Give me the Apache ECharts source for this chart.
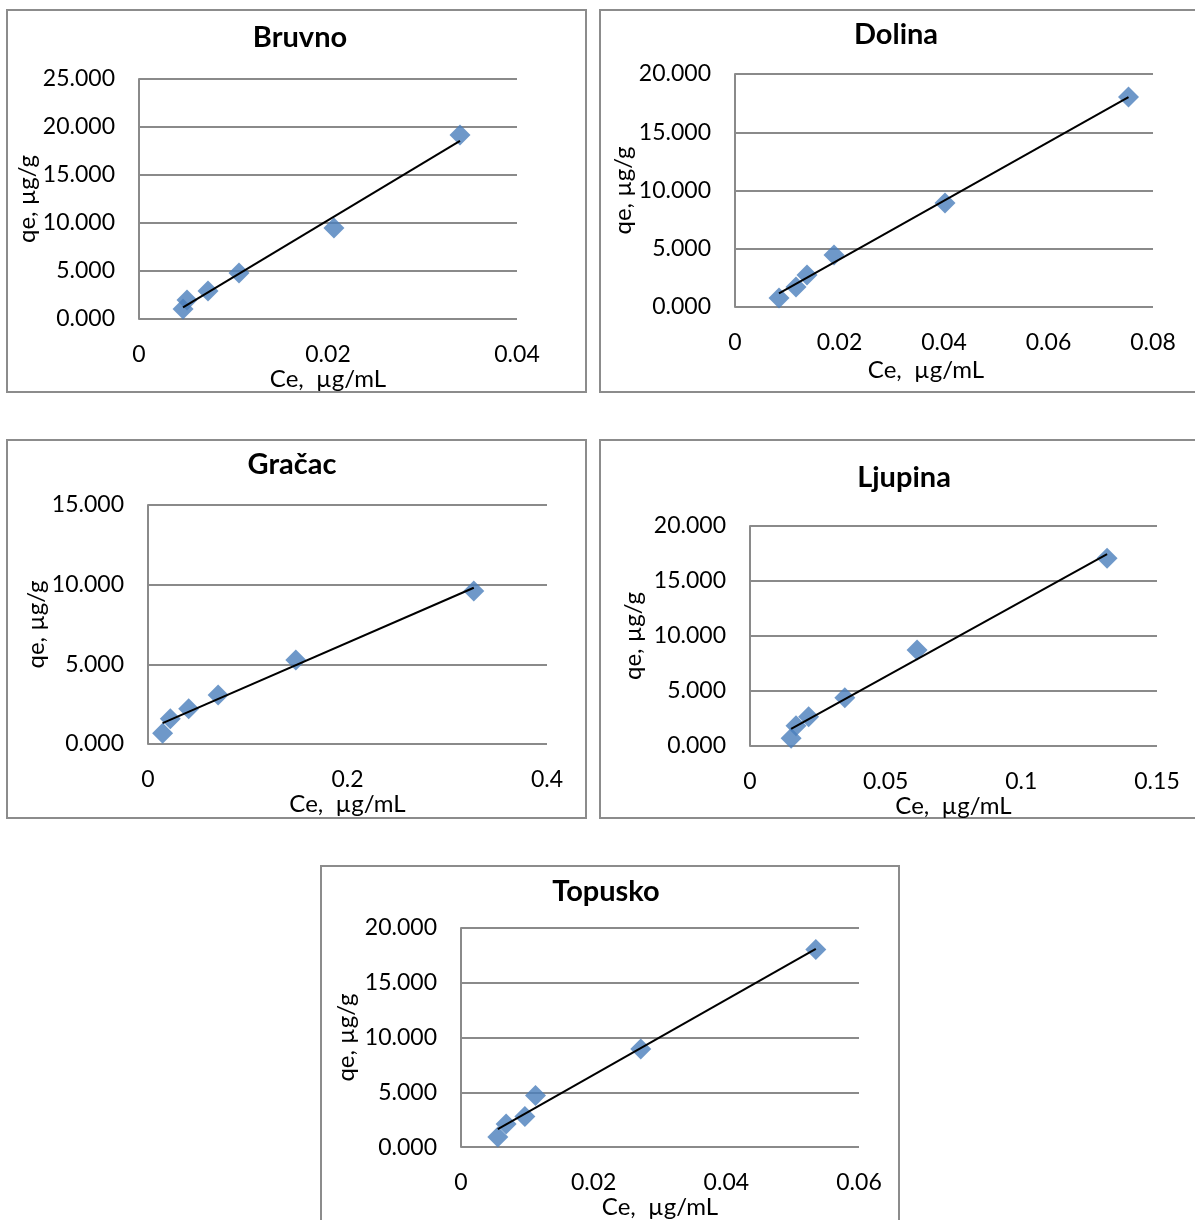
<!DOCTYPE html>
<html>
<head>
<meta charset="utf-8">
<script src="https://cdn.jsdelivr.net/npm/echarts@6/dist/echarts.min.js"></script>
<style>
html,body{margin:0;padding:0;background:#fff;}
#c{width:1195px;height:1220px;}
</style>
</head>
<body>
<div id="c"></div>
<script>
// ---- data ----
const titles = ['Bruvno', 'Dolina', 'Gra\u010dac', 'Ljupina', 'Topusko'];
const bruvnoCe = [0.00466, 0.00508, 0.0073, 0.01058, 0.02063, 0.03397];
const bruvnoQe = [1.042, 1.979, 2.917, 4.792, 9.479, 19.167];
const dolinaCe = [0.00842, 0.01167, 0.01378, 0.01895, 0.04019, 0.07531];
const dolinaQe = [0.773, 1.717, 2.747, 4.464, 8.927, 18.026];
const gracacCe = [0.01464, 0.02236, 0.0408, 0.0703, 0.1482, 0.3266];
const gracacQe = [0.672, 1.588, 2.215, 3.075, 5.272, 9.603];
const ljupinaCe = [0.01515, 0.01695, 0.0216, 0.03494, 0.06158, 0.1316];
const ljupinaQe = [0.700, 1.845, 2.664, 4.391, 8.727, 17.064];
const topuskoCe = [0.00555, 0.0068, 0.00963, 0.01123, 0.0271, 0.05349];
const topuskoQe = [0.920, 2.116, 2.795, 4.705, 8.955, 18.036];
const xMaxes = [0.04, 0.08, 0.4, 0.15, 0.06];
const xSteps = [0.02, 0.02, 0.2, 0.05, 0.02];
const yMaxes = [25, 20, 15, 20, 20];
const ySteps = [5, 5, 5, 5, 5];
const xAxisTitle = 'Ce,  \u00b5g/mL';
const yAxisTitle = 'qe, \u00b5g/g';

const ceSets = [bruvnoCe, dolinaCe, gracacCe, ljupinaCe, topuskoCe];
const qeSets = [bruvnoQe, dolinaQe, gracacQe, ljupinaQe, topuskoQe];

// ---- layout ----
const grids = [
  {left: 139, top: 79, width: 378, height: 240},
  {left: 735, top: 74, width: 418, height: 233},
  {left: 148, top: 505, width: 399, height: 239},
  {left: 750, top: 526, width: 407, height: 220},
  {left: 461, top: 928, width: 398, height: 224}
];
const boxes = [
  [7, 10, 579, 382], [600, 10, 620, 382], [7, 440, 579, 378], [600, 440, 620, 378], [321, 866, 578, 380]
];
const titlePos = [[300, 38], [896, 35], [292, 465], [904, 478], [606, 892]];
const yNameGap = [89, 97, 100, 105, 103];
const xNameGap = [43, 51, 44, 41, 42];
const xNamePad = [[0,0,0,0], [0,36,0,0], [0,0,0,0], [0,0,0,0], [0,0,0,0]];

const FONT = 'Lato, "Open Sans", sans-serif';
const GRIDC = '#8a8a8a';

function fit(xs, ys) {
  const n = xs.length;
  let mx = 0, my = 0;
  for (let i = 0; i < n; i++) { mx += xs[i]; my += ys[i]; }
  mx /= n; my /= n;
  let sxy = 0, sxx = 0;
  for (let i = 0; i < n; i++) { sxy += (xs[i]-mx)*(ys[i]-my); sxx += (xs[i]-mx)*(xs[i]-mx); }
  const b = sxy / sxx, a = my - b*mx;
  const x0 = Math.min.apply(null, xs), x1 = Math.max.apply(null, xs);
  return [[x0, a + b*x0], [x1, a + b*x1]];
}

const option = {
  animation: false,
  backgroundColor: '#fff',
  grid: [], xAxis: [], yAxis: [], series: [], graphic: []
};

for (let i = 0; i < 5; i++) {
  option.grid.push(Object.assign({containLabel: false}, grids[i]));
  option.xAxis.push({
    gridIndex: i, type: 'value', min: 0, max: xMaxes[i], interval: xSteps[i],
    axisLine: {show: false}, axisTick: {show: false}, splitLine: {show: false},
    axisLabel: {color: '#000', fontFamily: FONT, fontSize: 23, margin: 24},
    name: xAxisTitle, nameLocation: 'middle', nameGap: xNameGap[i],
    nameTextStyle: {color: '#000', fontFamily: FONT, fontSize: 24, padding: xNamePad[i]}
  });
  option.yAxis.push({
    gridIndex: i, type: 'value', min: 0, max: yMaxes[i], interval: ySteps[i],
    axisLine: {show: true, lineStyle: {color: GRIDC, width: 2}}, axisTick: {show: false},
    splitLine: {show: true, lineStyle: {color: GRIDC, width: 2}},
    axisLabel: {color: '#000', fontFamily: FONT, fontSize: 23, margin: 24,
      formatter: v => v.toFixed(3)},
    name: yAxisTitle, nameLocation: 'middle', nameGap: yNameGap[i], nameRotate: 90,
    nameTextStyle: {color: '#000', fontFamily: FONT, fontSize: 24}
  });
  const pts = ceSets[i].map((x, k) => [x, qeSets[i][k]]);
  option.series.push({
    type: 'scatter', xAxisIndex: i, yAxisIndex: i, data: pts,
    symbol: 'diamond', symbolSize: 21, itemStyle: {color: '#4A7EBB'}, z: 2
  });
  option.series.push({
    type: 'line', xAxisIndex: i, yAxisIndex: i, data: fit(ceSets[i], qeSets[i]),
    showSymbol: false, symbol: 'none', lineStyle: {color: '#000', width: 2}, z: 3, silent: true
  });
  const b = boxes[i];
  option.graphic.push({
    type: 'rect', shape: {x: b[0], y: b[1], width: b[2], height: b[3]},
    style: {fill: null, stroke: '#8c8c8c', lineWidth: 2}, z: 0, silent: true
  });
  option.graphic.push({
    type: 'text', x: titlePos[i][0], y: titlePos[i][1],
    style: {text: titles[i], fill: '#000', font: 'bold 29px ' + FONT,
      textAlign: 'center', textVerticalAlign: 'middle'}, z: 10
  });
}

const chart = echarts.init(document.getElementById('c'));
chart.setOption(option);
</script>
</body>
</html>
